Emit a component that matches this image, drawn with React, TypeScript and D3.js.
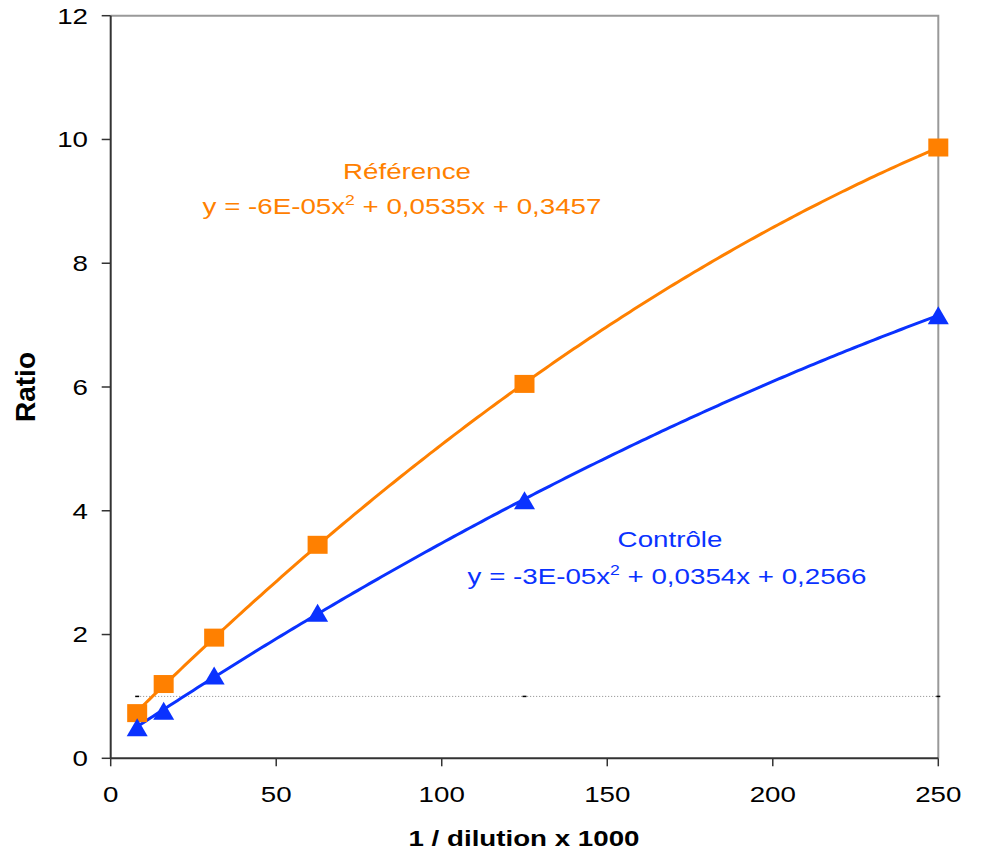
import React from "react";
import * as d3 from "d3";

const dilution = [8, 16, 31.25, 62.5, 125, 250];
const referenceRatio = [0.73, 1.2, 1.95, 3.45, 6.05, 9.87];
const controleRatio = [0.5, 0.77, 1.34, 2.35, 4.17, 7.16];
const thresholdX = [8, 125, 250];
const thresholdY = [1, 1, 1];
const xTicks = [0, 50, 100, 150, 200, 250];
const yTicks = [0, 2, 4, 6, 8, 10, 12];
const referenceLabel = "Référence";
const controleLabel = "Contrôle";
const referenceEq = ["y = -6E-05x", "2", " + 0,0535x + 0,3457"];
const controleEq = ["y = -3E-05x", "2", " + 0,0354x + 0,2566"];

const ORANGE = "#FF8000";
const BLUE = "#0A32FF";
const FONT = "'Liberation Sans', Arial, sans-serif";
const SX = 1.26;

// least-squares quadratic trendline (as the chart's polynomial trendline)
function fitQuadratic(xs: number[], ys: number[]) {
  const S = (f: (i: number) => number) => xs.reduce((a, _, i) => a + f(i), 0);
  const n = xs.length;
  const s1 = S((i) => xs[i]);
  const s2 = S((i) => xs[i] ** 2);
  const s3 = S((i) => xs[i] ** 3);
  const s4 = S((i) => xs[i] ** 4);
  const t0 = S((i) => ys[i]);
  const t1 = S((i) => xs[i] * ys[i]);
  const t2 = S((i) => xs[i] ** 2 * ys[i]);
  const M = [
    [s4, s3, s2, t2],
    [s3, s2, s1, t1],
    [s2, s1, n, t0],
  ];
  for (let c = 0; c < 3; c++) {
    for (let r = c + 1; r < 3; r++) {
      const f = M[r][c] / M[c][c];
      for (let k = c; k < 4; k++) M[r][k] -= f * M[c][k];
    }
  }
  const sol = [0, 0, 0];
  for (let r = 2; r >= 0; r--) {
    let v = M[r][3];
    for (let k = r + 1; k < 3; k++) v -= M[r][k] * sol[k];
    sol[r] = v / M[r][r];
  }
  return (x: number) => sol[0] * x * x + sol[1] * x + sol[2];
}

type TP = {
  x: number;
  y: number;
  anchor?: string;
  size?: number;
  weight?: string;
  fill?: string;
  dy?: string;
  children?: React.ReactNode;
};
const T = ({ x, y, anchor = "middle", size = 22, weight = "normal", fill = "#000", dy, children }: TP) => (
  <text
    transform={`translate(${x},${y}) scale(${SX},1)`}
    textAnchor={anchor}
    fontSize={size}
    fontWeight={weight}
    fill={fill}
    dy={dy}
  >
    {children}
  </text>
);

export default function App() {
  const W = 981;
  const H = 850;
  const left = 110.7;
  const right = 938.3;
  const top = 15.7;
  const bottom = 758.3;
  const x = d3.scaleLinear().domain([0, 250]).range([left, right]);
  const y = d3.scaleLinear().domain([0, 12]).range([bottom, top]);

  const line = d3
    .line<[number, number]>()
    .x((d) => x(d[0]))
    .y((d) => y(d[1]));

  const refPts = dilution.map((d, i) => [d, referenceRatio[i]] as [number, number]);
  const ctlPts = dilution.map((d, i) => [d, controleRatio[i]] as [number, number]);
  const thrPts = thresholdX.map((d, i) => [d, thresholdY[i]] as [number, number]);

  const [x0, x1] = d3.extent(dilution) as [number, number];
  const samples = d3.range(0, 201).map((i) => x0 + ((x1 - x0) * i) / 200);
  const refFit = fitQuadratic(dilution, referenceRatio);
  const ctlFit = fitQuadratic(dilution, controleRatio);
  const refTrend = samples.map((s) => [s, refFit(s)] as [number, number]);
  const ctlTrend = samples.map((s) => [s, ctlFit(s)] as [number, number]);

  const tri = (cx: number, cy: number) => {
    const w = 21, h = 18;
    return `M${cx - w / 2},${cy + h / 2}L${cx + w / 2},${cy + h / 2}L${cx},${cy - h / 2}Z`;
  };

  return (
    <svg
      width={W}
      height={H}
      style={{ position: "absolute", left: 0, top: 0, background: "#fff" }}
      fontFamily={FONT}
    >
      <path d={`M${left},${top}L${right},${top}L${right},${bottom}`} fill="none" stroke="#999" strokeWidth={2} />
      <path d={line(thrPts) || ""} fill="none" stroke="#888" strokeWidth={1} strokeDasharray="1,2" />
      {thrPts.map((p, i) => (
        <line key={i} x1={x(p[0]) - 2} x2={x(p[0]) + 2} y1={y(p[1])} y2={y(p[1])} stroke="#000" strokeWidth={1.5} />
      ))}
      <line x1={left} x2={left} y1={top} y2={bottom} stroke="#333" strokeWidth={2} />
      <line x1={left} x2={right} y1={bottom} y2={bottom} stroke="#333" strokeWidth={2} />
      {yTicks.map((t) => (
        <g key={t}>
          <line x1={left - 9} x2={left} y1={y(t)} y2={y(t)} stroke="#333" strokeWidth={1.5} />
          <T x={88} y={y(t)} dy="0.36em" anchor="end">
            {t}
          </T>
        </g>
      ))}
      {xTicks.map((t) => (
        <g key={t}>
          <line x1={x(t)} x2={x(t)} y1={bottom} y2={bottom + 8} stroke="#333" strokeWidth={1.5} />
          <T x={x(t)} y={802}>
            {t}
          </T>
        </g>
      ))}
      <text transform="translate(35,387) rotate(-90)" textAnchor="middle" fontSize={28} fontWeight="bold" fill="#000">
        Ratio
      </text>
      <T x={524} y={846} weight="bold">
        1 / dilution x 1000
      </T>

      <path d={line(refTrend) || ""} fill="none" stroke={ORANGE} strokeWidth={3} />
      <path d={line(ctlTrend) || ""} fill="none" stroke={BLUE} strokeWidth={3} />
      {refPts.map((p, i) => (
        <rect key={i} x={x(p[0]) - 10} y={y(p[1]) - 9} width={20} height={18} fill={ORANGE} />
      ))}
      {ctlPts.map((p, i) => (
        <path key={i} d={tri(x(p[0]), y(p[1]))} fill={BLUE} />
      ))}

      <T x={407} y={179} fill={ORANGE}>
        {referenceLabel}
      </T>
      <T x={402} y={214} fill={ORANGE}>
        {referenceEq[0]}
        <tspan dy={-9} fontSize={14}>
          {referenceEq[1]}
        </tspan>
        <tspan dy={9}>{referenceEq[2]}</tspan>
      </T>
      <T x={670} y={547} fill={BLUE}>
        {controleLabel}
      </T>
      <T x={667} y={584} fill={BLUE}>
        {controleEq[0]}
        <tspan dy={-9} fontSize={14}>
          {controleEq[1]}
        </tspan>
        <tspan dy={9}>{controleEq[2]}</tspan>
      </T>
    </svg>
  );
}
